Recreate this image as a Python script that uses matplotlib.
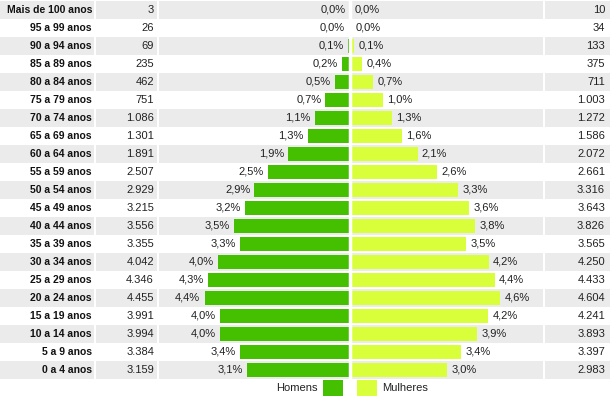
import matplotlib
matplotlib.use('Agg')
import matplotlib.pyplot as plt

# Age groups, top row first
faixas = ['Mais de 100 anos', '95 a 99 anos', '90 a 94 anos', '85 a 89 anos',
          '80 a 84 anos', '75 a 79 anos', '70 a 74 anos', '65 a 69 anos',
          '60 a 64 anos', '55 a 59 anos', '50 a 54 anos', '45 a 49 anos',
          '40 a 44 anos', '35 a 39 anos', '30 a 34 anos', '25 a 29 anos',
          '20 a 24 anos', '15 a 19 anos', '10 a 14 anos', '5 a 9 anos',
          '0 a 4 anos']
homens = [3, 26, 69, 235, 462, 751, 1086, 1301, 1891, 2507, 2929, 3215,
          3556, 3355, 4042, 4346, 4455, 3991, 3994, 3384, 3159]
mulheres = [10, 34, 133, 375, 711, 1003, 1272, 1586, 2072, 2661, 3316, 3643,
            3826, 3565, 4250, 4433, 4604, 4241, 3893, 3397, 2983]
pct_homens = [0.0, 0.0, 0.1, 0.2, 0.5, 0.7, 1.1, 1.3, 1.9, 2.5, 2.9, 3.2,
              3.5, 3.3, 4.0, 4.3, 4.4, 4.0, 4.0, 3.4, 3.1]
pct_mulheres = [0.0, 0.0, 0.1, 0.4, 0.7, 1.0, 1.3, 1.6, 2.1, 2.6, 3.3, 3.6,
                3.8, 3.5, 4.2, 4.4, 4.6, 4.2, 3.9, 3.4, 3.0]

VERDE = '#44c000'
AMARELO = '#d9ff3a'
CINZA = '#ebebeb'
FONT = 'Liberation Sans'


def milhar(v):
    return f'{v:,}'.replace(',', '.')


def pct(v):
    return f'{v:.1f}%'.replace('.', ',')


W, H = 610, 396
ROW = 18
TOP = 1
n = len(faixas)

fig = plt.figure(figsize=(W / 100, H / 100), dpi=100)

# background "table" in pixel units
bg = fig.add_axes([0, 0, 1, 1])
bg.set_xlim(0, W)
bg.set_ylim(H, 0)
bg.axis('off')
for i in range(0, n, 2):
    bg.axhspan(TOP + i * ROW, TOP + (i + 1) * ROW, color=CINZA, lw=0)
for x in (94.5, 157.5, 350, 544):
    bg.plot([x, x], [TOP, TOP + n * ROW], color='white', lw=1.5)

for i, (f, h, m) in enumerate(zip(faixas, homens, mulheres)):
    yc = TOP + i * ROW + ROW / 2
    bg.text(92, yc, f, ha='right', va='center', fontsize=7.5,
            fontweight='bold', family=FONT, color='#111111')
    bg.text(154, yc, milhar(h), ha='right', va='center', fontsize=8,
            family=FONT, color='#222222')
    bg.text(605, yc, milhar(m), ha='right', va='center', fontsize=8,
            family=FONT, color='#222222')

# legend
ly = 388
bg.text(318, ly, 'Homens', ha='right', va='center', fontsize=8,
        family=FONT, color='#222222')
bg.add_patch(plt.Rectangle((323, 380), 20, 16, color=VERDE, lw=0))
bg.add_patch(plt.Rectangle((357, 380), 20, 16, color=AMARELO, lw=0))
bg.text(382, ly, 'Mulheres', ha='left', va='center', fontsize=8,
        family=FONT, color='#222222')

# pyramid
ax = fig.add_axes([158 / W, (H - TOP - n * ROW) / H, (543 - 158) / W,
                   n * ROW / H])
ax.set_facecolor('none')
ax.set_xlim(-5880, 5910)
ax.set_ylim(n - 0.5, -0.5)
ax.axis('off')
y = list(range(n))
ax.barh(y, [-v for v in homens], height=0.83, color=VERDE, lw=0)
ax.barh(y, mulheres, height=0.83, color=AMARELO, lw=0)
ax.axvline(0, color='white', lw=2.5)

for i in range(n):
    ax.annotate(pct(pct_homens[i]), (-homens[i], i), xytext=(-3, 0),
                textcoords='offset points', ha='right', va='center',
                fontsize=8, family=FONT, color='#222222')
    ax.annotate(pct(pct_mulheres[i]), (mulheres[i], i), xytext=(3, 0),
                textcoords='offset points', ha='left', va='center',
                fontsize=8, family=FONT, color='#222222')

plt.savefig('out.png', dpi=100)
